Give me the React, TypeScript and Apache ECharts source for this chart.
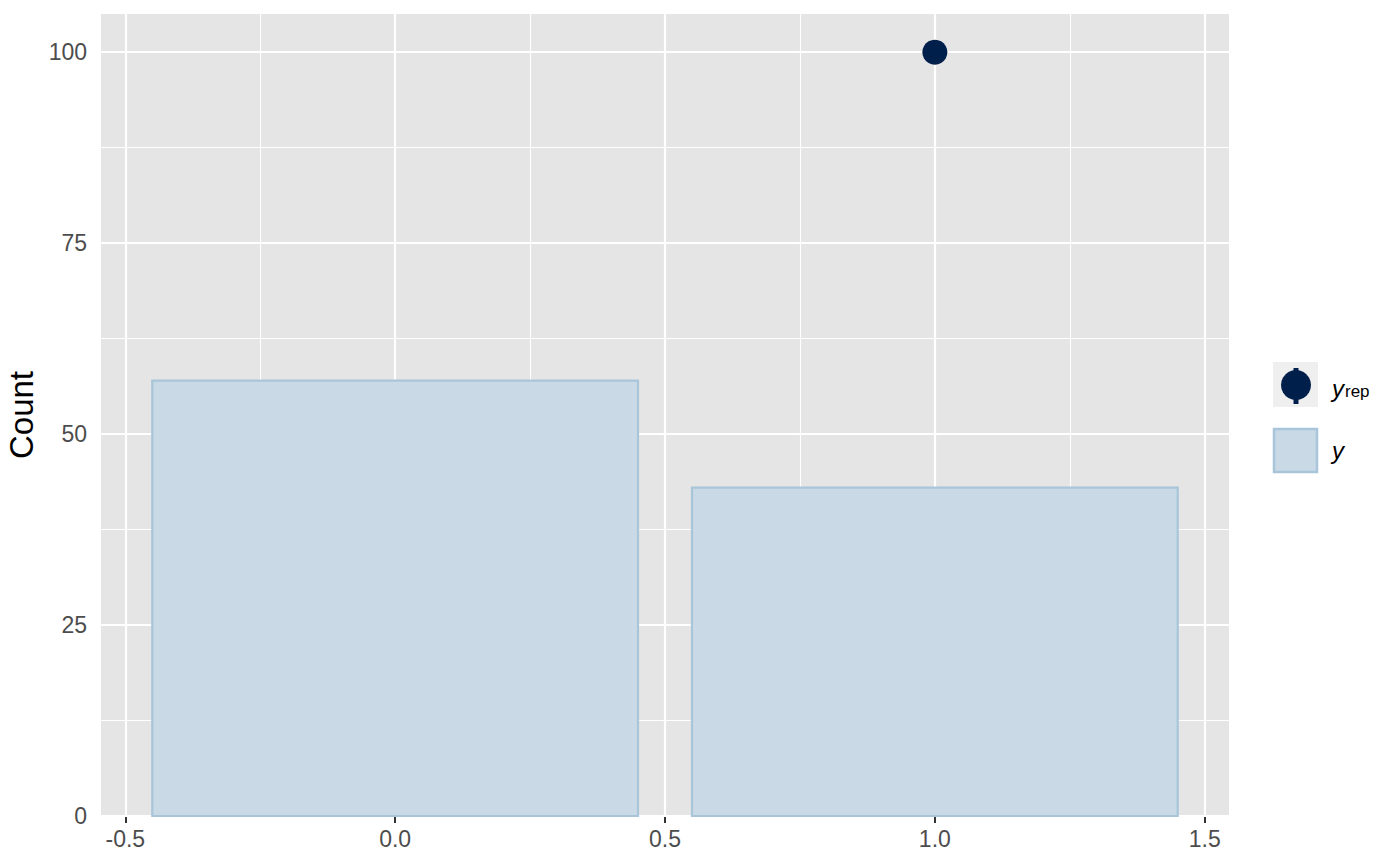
import React, { useEffect, useRef } from 'react';
import * as echarts from 'echarts';

// ---- data ----
const categories = [0, 1];
const yCounts = [57, 43];
const yrepX = [1];
const yrepMeans = [100];
const xTicks = [-0.5, 0, 0.5, 1, 1.5];
const xTickLabels = ['-0.5', '0.0', '0.5', '1.0', '1.5'];
const xMinor = [-0.25, 0.25, 0.75, 1.25];
const yTicks = [0, 25, 50, 75, 100];
const yTickLabels = ['0', '25', '50', '75', '100'];
const yMinor = [12.5, 37.5, 62.5, 87.5];
const barHalfWidth = 0.45;

const FONT = '"Liberation Sans", Arial, Helvetica, sans-serif';
const PANEL = '#e5e5e5';
const BAR_FILL = '#c9dae6';
const BAR_EDGE = '#a9c5da';
const DARK = '#011f4b';

export default function App() {
  const ref = useRef<HTMLDivElement>(null);
  useEffect(() => {
    document.body.style.margin = '0';
    const chart = echarts.init(ref.current!, null, { renderer: 'svg' });

    const gridLine = (axis: 'xAxis' | 'yAxis', v: number, w: number) => ({
      [axis]: v,
      lineStyle: { color: '#ffffff', width: w, type: 'solid' },
    });

    const barData = categories.map((c, i) => [c, yCounts[i]]);
    const pointData = yrepX.map((x, i) => [x, yrepMeans[i]]);

    chart.setOption({
      animation: false,
      grid: {
        left: 101,
        right: 171,
        top: 14,
        bottom: 49,
        show: true,
        backgroundColor: PANEL,
        borderWidth: 0,
        containLabel: false,
        outerBoundsMode: 'none',
      },
      xAxis: {
        type: 'value',
        min: -0.545,
        max: 1.545,
        splitLine: { show: false },
        axisLine: { show: false },
        axisTick: {
          show: true,
          customValues: xTicks,
          length: 7,
          lineStyle: { color: '#333333', width: 2 },
        },
        axisLabel: {
          customValues: xTicks,
          formatter: (v: number) => {
            const i = xTicks.findIndex((t) => Math.abs(t - v) < 1e-9);
            return i >= 0 ? xTickLabels[i] : '';
          },
          fontFamily: FONT,
          fontSize: 23,
          color: '#4d4d4d',
          margin: 11,
        },
      },
      yAxis: {
        type: 'value',
        min: 0,
        max: 105,
        name: 'Count',
        nameLocation: 'middle',
        nameRotate: 90,
        nameGap: 58,
        nameTextStyle: { fontFamily: FONT, fontSize: 33, color: '#000000' },
        splitLine: { show: false },
        axisLine: { show: false },
        axisTick: {
          show: true,
          customValues: yTicks,
          length: 7,
          lineStyle: { color: '#333333', width: 2 },
        },
        axisLabel: {
          customValues: yTicks,
          formatter: (v: number) => {
            const i = yTicks.findIndex((t) => Math.abs(t - v) < 1e-9);
            return i >= 0 ? yTickLabels[i] : '';
          },
          fontFamily: FONT,
          fontSize: 23,
          color: '#4d4d4d',
          margin: 14,
        },
      },
      series: [
        {
          type: 'line',
          data: [],
          z: 1,
          silent: true,
          markLine: {
            silent: true,
            symbol: ['none', 'none'],
            label: { show: false },
            z: 1,
            data: [
              ...xMinor.map((v) => gridLine('xAxis', v, 1.1)),
              ...yMinor.map((v) => gridLine('yAxis', v, 1.1)),
              ...xTicks.map((v) => gridLine('xAxis', v, 2.2)),
              ...yTicks.map((v) => gridLine('yAxis', v, 2.2)),
            ],
          },
        },
        {
          type: 'custom',
          z: 2,
          data: barData,
          renderItem: (params: any, api: any) => {
            const x = api.value(0);
            const v = api.value(1);
            const p0 = api.coord([x - barHalfWidth, v]);
            const p1 = api.coord([x + barHalfWidth, 0]);
            return {
              type: 'rect',
              shape: { x: p0[0], y: p0[1], width: p1[0] - p0[0], height: p1[1] - p0[1] },
              style: { fill: BAR_FILL, stroke: BAR_EDGE, lineWidth: 2.2 },
            };
          },
        },
        {
          type: 'scatter',
          z: 3,
          data: pointData,
          symbol: 'circle',
          symbolSize: 25,
          itemStyle: { color: DARK, opacity: 1 },
        },
      ],
      graphic: [
        { type: 'rect', shape: { x: 1273, y: 362, width: 45, height: 45 }, style: { fill: '#efefef' } },
        { type: 'line', shape: { x1: 1296, y1: 368, x2: 1296, y2: 404 }, style: { stroke: DARK, lineWidth: 5 } },
        { type: 'circle', shape: { cx: 1296, cy: 385, r: 15 }, style: { fill: DARK } },
        {
          type: 'text',
          x: 1332,
          y: 385,
          style: {
            text: '{i|y}{s|rep}',
            verticalAlign: 'middle',
            rich: {
              i: { fontFamily: FONT, fontStyle: 'italic', fontSize: 24, fill: '#000', lineHeight: 30, verticalAlign: 'bottom' },
              s: { fontFamily: FONT, fontSize: 17, fill: '#000', lineHeight: 30, verticalAlign: 'bottom', padding: [8, 0, 0, 1] },
            },
          },
        },
        { type: 'rect', shape: { x: 1274, y: 429, width: 43, height: 43 }, style: { fill: BAR_FILL, stroke: BAR_EDGE, lineWidth: 2.5 } },
        {
          type: 'text',
          x: 1332,
          y: 450,
          style: { text: 'y', fontFamily: FONT, fontStyle: 'italic', fontSize: 24, fill: '#000', verticalAlign: 'middle' },
        },
      ],
    });
    return () => chart.dispose();
  }, []);
  return <div ref={ref} style={{ width: 1400, height: 865 }} />;
}
